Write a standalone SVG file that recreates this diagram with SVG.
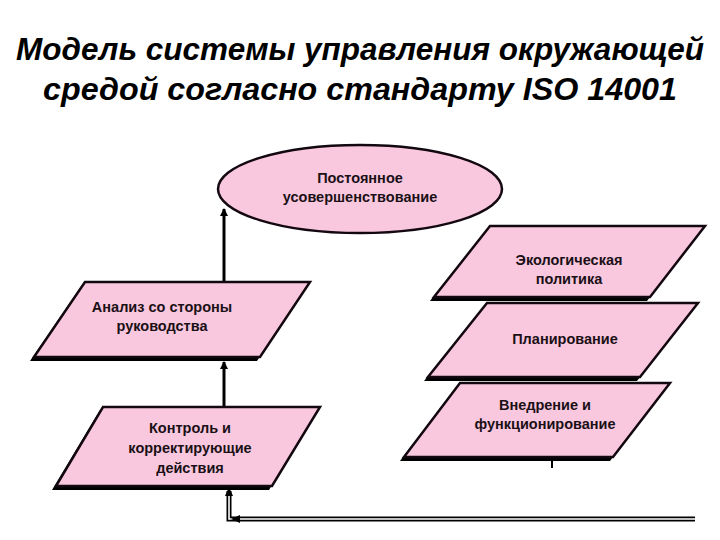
<svg xmlns="http://www.w3.org/2000/svg" width="720" height="540" viewBox="0 0 720 540">
<defs>
<marker id="ah" markerWidth="8" markerHeight="8" refX="7" refY="4" orient="auto" markerUnits="userSpaceOnUse"><path d="M0,0 L8,4 L0,8 z" fill="#000"/></marker>
</defs>
<style>
.title{font-family:"Liberation Sans",Arial,sans-serif;font-weight:bold;font-style:italic;font-size:32px;fill:#000}
.lbl{font-family:"Liberation Sans",Arial,sans-serif;font-weight:bold;font-size:14.5px;fill:#1a1016;text-anchor:middle}
.shape{fill:#f9c8de;stroke:#140810;stroke-width:2.5}
.shadow{fill:#000}
.conn{stroke:#000;stroke-width:3;fill:none}
</style>
<rect width="720" height="540" fill="#fff"/>
<text class="title" x="360" y="60" text-anchor="middle" textLength="688" lengthAdjust="spacingAndGlyphs">Модель системы управления окружающей</text>
<text class="title" x="360" y="100" text-anchor="middle" textLength="634" lengthAdjust="spacingAndGlyphs">средой согласно стандарту  ISO 14001</text>

<g id="connectors">
<line class="conn" x1="224" y1="282" x2="224" y2="209" marker-end="url(#ah)"/>
<line class="conn" x1="224" y1="406" x2="224" y2="362" marker-end="url(#ah)"/>
<line x1="552" y1="460" x2="552" y2="468" stroke="#000" stroke-width="2"/>
<path d="M695,519 L229,519 L229,491" fill="none" stroke="#000" stroke-width="5"/>
<path d="M695,519 L229,519 L229,491" fill="none" stroke="#fff" stroke-width="1.6"/>
<path d="M229,487 L225,496 L233,496 z" fill="#000"/>
<path d="M231,519 L240,515 L240,523 z" fill="#000"/>
</g>

<g id="node-improvement">
<ellipse cx="360" cy="189" rx="142" ry="44" class="shape" stroke-width="3.5"/>
<text class="lbl" x="360" y="183">Постоянное</text>
<text class="lbl" x="360" y="202">усовершенствование</text>
</g>

<g id="node-policy">
<polygon class="shadow" points="487,229 702,229 647,301 430,301"/>
<polygon class="shape" points="490,226 705,226 650,297 434,297"/>
<text class="lbl" x="569" y="265">Экологическая</text>
<text class="lbl" x="569" y="284">политика</text>
</g>

<g id="node-planning">
<polygon class="shadow" points="484,306 695,306 637,381 424,381"/>
<polygon class="shape" points="487,303 698,303 640,377 428,377"/>
<text class="lbl" x="565" y="344">Планирование</text>
</g>

<g id="node-implementation">
<polygon class="shadow" points="457,386 667,386 610,461 400,461"/>
<polygon class="shape" points="460,383 670,383 613,457 404,457"/>
<text class="lbl" x="545" y="410">Внедрение и</text>
<text class="lbl" x="545" y="429">функционирование</text>
</g>

<g id="node-review">
<polygon class="shadow" points="82,285 307,285 257,361 30,361"/>
<polygon class="shape" points="85,282 310,282 260,357 34,357"/>
<text class="lbl" x="162" y="312">Анализ со стороны</text>
<text class="lbl" x="162" y="331">руководства</text>
</g>

<g id="node-control">
<polygon class="shadow" points="100,410 317,410 269,490 52,490"/>
<polygon class="shape" points="103,407 320,407 272,486 56,486"/>
<text class="lbl" x="190" y="433">Контроль и</text>
<text class="lbl" x="190" y="453">корректирующие</text>
<text class="lbl" x="190" y="473">действия</text>
</g>
</svg>
